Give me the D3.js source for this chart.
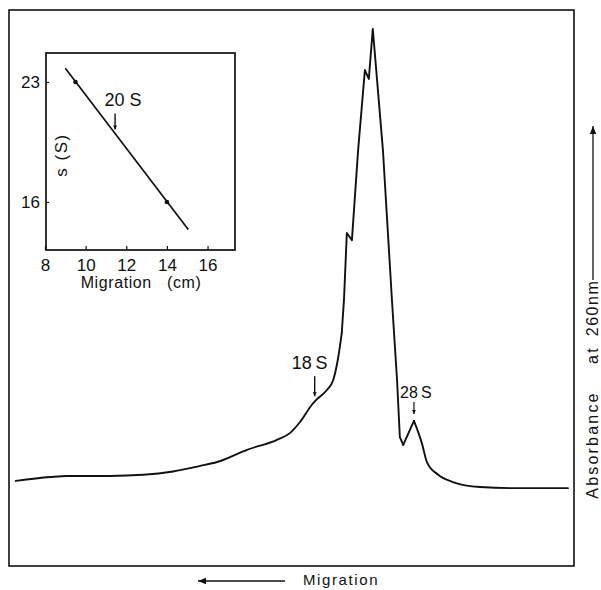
<!DOCTYPE html>
<html>
<head>
<meta charset="utf-8">
<script src="https://cdn.jsdelivr.net/npm/d3@7"></script>
<style>
  html, body { margin: 0; padding: 0; background: #fff; }
  svg { display: block; }
  text { font-family: "Liberation Sans", Arial, sans-serif; fill: #111; }
</style>
</head>
<body>
<svg id="chart" width="601" height="590"></svg>
<script>
// ---- Main trace: position along gradient (0-100, arbitrary) vs absorbance at 260 nm (arbitrary)
const tracePos = [1.2, 7.3, 10.3, 17.9, 23.8, 29.1, 33.9, 36.9, 42.2, 47.5, 49.8, 51.6, 53.7, 54.6, 56.4, 57.5, 58.3, 59.0, 59.4, 59.9, 60.8, 61.9, 63.1, 63.8, 64.5, 66.3, 67.9, 68.8, 69.3, 69.9, 71.8, 73.2, 74.1, 76.1, 78.7, 83.5, 89.4, 95.4, 99.1];
const traceAbs = [0.153, 0.160, 0.162, 0.162, 0.164, 0.170, 0.180, 0.187, 0.209, 0.227, 0.239, 0.259, 0.290, 0.300, 0.317, 0.335, 0.371, 0.419, 0.480, 0.599, 0.586, 0.748, 0.892, 0.876, 0.966, 0.748, 0.478, 0.335, 0.232, 0.218, 0.261, 0.221, 0.187, 0.164, 0.151, 0.142, 0.140, 0.140, 0.140];

// markers on the trace
const markerLabels = ["18S", "28S"];
const markerPos = [54.2, 71.8];
const markerAbs = [0.300, 0.261];

// ---- Inset: calibration line, migration (cm) vs s (S)
const insetXTicks = [8, 10, 12, 14, 16];
const insetYTicks = [23, 16];
const calibLineX = [9.0, 15.05];
const calibLineS = [23.8, 14.4];
const calibPointX = [9.5, 14.0];
const calibPointS = [23, 16];
const insetMarkLabel = "20 S";
const insetMarkX = 11.45;
const insetMarkS = 20;

const svg = d3.select("#chart");

// ===== main panel =====
const frame = {left: 9, top: 10, right: 574, bottom: 566};
const x = d3.scaleLinear().domain([0, 100]).range([frame.left, frame.right - 1]);
const y = d3.scaleLinear().domain([0, 1]).range([frame.bottom, frame.top]);

svg.append("rect")
  .attr("x", frame.left).attr("y", frame.top)
  .attr("width", frame.right - frame.left).attr("height", frame.bottom - frame.top)
  .attr("fill", "none").attr("stroke", "#111").attr("stroke-width", 1.6);

const traceData = tracePos.map((p, i) => [p, traceAbs[i]]);
// smooth flanks, sharp (linear) around the main peak and notches
const segs = [
  {from: 0, to: 17, curve: d3.curveMonotoneX},
  {from: 17, to: 29, curve: d3.curveLinear},
  {from: 29, to: 30, curve: d3.curveLinear},
  {from: 30, to: 38, curve: d3.curveMonotoneX}
];
segs.forEach(s => {
  svg.append("path")
    .datum(traceData.slice(s.from, s.to + 1))
    .attr("fill", "none").attr("stroke", "#111").attr("stroke-width", 1.9)
    .attr("stroke-linejoin", "round").attr("stroke-linecap", "round")
    .attr("d", d3.line().x(d => x(d[0])).y(d => y(d[1])).curve(s.curve));
});

// arrow marker def
const defs = svg.append("defs");
defs.append("marker").attr("id", "ah").attr("viewBox", "0 0 10 10")
  .attr("refX", 10).attr("refY", 5).attr("markerWidth", 4).attr("markerHeight", 5)
  .attr("orient", "auto").attr("markerUnits", "userSpaceOnUse")
  .append("path").attr("d", "M0,0 L10,5 L0,10 Z").attr("fill", "#111");
defs.append("marker").attr("id", "ahBig").attr("viewBox", "0 0 10 10")
  .attr("refX", 10).attr("refY", 5).attr("markerWidth", 16).attr("markerHeight", 8)
  .attr("orient", "auto").attr("markerUnits", "userSpaceOnUse")
  .append("path").attr("d", "M0,1 L10,5 L0,9 Z").attr("fill", "#111");

// 18S marker
const m18x = x(markerPos[0]), m18y = y(markerAbs[0]);
svg.append("line").attr("x1", m18x).attr("x2", m18x)
  .attr("y1", m18y - 23).attr("y2", m18y - 3)
  .attr("stroke", "#111").attr("stroke-width", 1.4).attr("marker-end", "url(#ah)");
svg.append("text").attr("x", m18x - 5).attr("y", m18y - 30)
  .attr("text-anchor", "middle").attr("font-size", 18).text("18\u2009S");

// 28S marker
const m28x = x(markerPos[1]), m28y = y(markerAbs[1]);
svg.append("line").attr("x1", m28x).attr("x2", m28x)
  .attr("y1", m28y - 19).attr("y2", m28y - 7)
  .attr("stroke", "#111").attr("stroke-width", 1.2).attr("marker-end", "url(#ah)");
svg.append("text").attr("x", m28x + 2).attr("y", m28y - 23)
  .attr("text-anchor", "middle").attr("font-size", 16)
  .style("font-family", "'Liberation Sans Narrow', 'Liberation Sans', Arial, sans-serif")
  .text("28\u2009S");

// bottom "Migration" with left arrow
svg.append("line").attr("x1", 285).attr("x2", 198).attr("y1", 581).attr("y2", 581)
  .attr("stroke", "#111").attr("stroke-width", 1.3).attr("marker-end", "url(#ahBig)");
svg.append("text").attr("x", 303).attr("y", 585).attr("font-size", 15)
  .attr("letter-spacing", 1.6).text("Migration");

// right axis label (rotated)
const ry = svg.append("g").attr("transform", "translate(598,0) rotate(-90)");
ry.append("text").attr("x", -445).attr("y", 0).attr("text-anchor", "middle")
  .attr("font-size", 16).attr("letter-spacing", 2.2).text("Absorbance");
ry.append("text").attr("x", -355).attr("y", 0).attr("text-anchor", "middle")
  .attr("font-size", 16).attr("letter-spacing", 2.2).text("at");
ry.append("text").attr("x", -308).attr("y", 0).attr("text-anchor", "middle")
  .attr("font-size", 16).attr("letter-spacing", 1.5).text("260nm");
svg.append("line").attr("x1", 593).attr("x2", 593).attr("y1", 280).attr("y2", 126)
  .attr("stroke", "#111").attr("stroke-width", 1.3).attr("marker-end", "url(#ahBig)");

// ===== inset =====
const box = {left: 46, top: 53, right: 235, bottom: 250};
const ix = d3.scaleLinear().domain([8.05, 17.35]).range([box.left, box.right]);
const iy = d3.scaleLinear().domain([13.2, 24.69]).range([box.bottom, box.top]);

svg.append("rect")
  .attr("x", box.left).attr("y", box.top)
  .attr("width", box.right - box.left).attr("height", box.bottom - box.top)
  .attr("fill", "none").attr("stroke", "#111").attr("stroke-width", 1.7);

const gx = svg.append("g").attr("transform", `translate(0,${box.bottom})`)
  .call(d3.axisBottom(ix).tickValues(insetXTicks).tickSizeInner(-4).tickSizeOuter(0).tickPadding(9));
const gy = svg.append("g").attr("transform", `translate(${box.left},0)`)
  .call(d3.axisLeft(iy).tickValues(insetYTicks).tickSizeInner(-3).tickSizeOuter(0).tickPadding(6));
[gx, gy].forEach(g => {
  g.select(".domain").remove();
  g.selectAll(".tick line").attr("stroke", "#111").attr("stroke-width", 1.2);
  g.selectAll(".tick text").attr("font-size", 17).attr("fill", "#111")
    .style("font-family", "'Liberation Sans', Arial, sans-serif");
});

svg.append("text").attr("x", 141).attr("y", 288).attr("text-anchor", "middle")
  .attr("font-size", 16).attr("letter-spacing", 0.6).attr("xml:space", "preserve")
  .text("Migration   (cm)");
svg.append("text").attr("transform", "translate(67,155) rotate(-90)")
  .attr("text-anchor", "middle").attr("font-size", 17).attr("letter-spacing", 1.5)
  .attr("xml:space", "preserve").text("s (S)");

svg.append("line")
  .attr("x1", ix(calibLineX[0])).attr("y1", iy(calibLineS[0]))
  .attr("x2", ix(calibLineX[1])).attr("y2", iy(calibLineS[1]))
  .attr("stroke", "#111").attr("stroke-width", 1.7);
svg.selectAll("circle.cal").data(calibPointX).join("circle").attr("class", "cal")
  .attr("cx", d => ix(d)).attr("cy", (d, i) => iy(calibPointS[i]))
  .attr("r", 2.3).attr("fill", "#111");

const m20x = ix(insetMarkX), m20y = iy(insetMarkS);
svg.append("line").attr("x1", m20x).attr("x2", m20x)
  .attr("y1", m20y - 20).attr("y2", m20y - 4)
  .attr("stroke", "#111").attr("stroke-width", 1.4).attr("marker-end", "url(#ah)");
svg.append("text").attr("x", m20x + 8).attr("y", m20y - 27)
  .attr("text-anchor", "middle").attr("font-size", 18).attr("xml:space", "preserve")
  .text(insetMarkLabel);
</script>
</body>
</html>
